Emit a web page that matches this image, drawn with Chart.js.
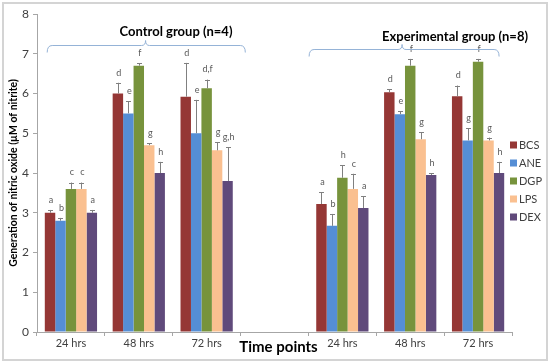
<!DOCTYPE html>
<html>
<head>
<meta charset="utf-8">
<script src="https://cdn.jsdelivr.net/npm/chart.js@4.4.1/dist/chart.umd.min.js"></script>
<style>
  html, body { margin: 0; padding: 0; background: #fff; }
  #wrap { width: 550px; height: 362px; position: relative; }
</style>
</head>
<body>
<div id="wrap"><canvas id="noChart"></canvas></div>
<script>
// time points (empty slot separates control and experimental groups)
const timePoints = ['24 hrs', '48 hrs', '72 hrs', '', '24 hrs', '48 hrs', '72 hrs'];
const yTicks = [0, 1, 2, 3, 4, 5, 6, 7, 8];

const seriesNames = ['BCS', 'ANE', 'DGP', 'LPS', 'DEX'];
const seriesColors = ['#953735', '#558ed5', '#77933c', '#fac090', '#604a7b'];

const bcs    = [3.0, 6.0, 5.92, null, 3.22, 6.03, 5.93];
const ane    = [2.8, 5.5, 5.0,  null, 2.67, 5.48, 4.82];
const dgp    = [3.6, 6.7, 6.13, null, 3.88, 6.7,  6.8];
const lps    = [3.6, 4.7, 4.57, null, 3.6,  4.85, 4.82];
const dex    = [3.0, 4.0, 3.8,  null, 3.12, 3.95, 4.0];

const bcsErr = [0.07, 0.27, 0.85, null, 0.3,  0.08, 0.27];
const aneErr = [0.07, 0.3,  0.84, null, 0.3,  0.07, 0.3];
const dgpErr = [0.16, 0.06, 0.22, null, 0.32, 0.17, 0.07];
const lpsErr = [0.16, 0.05, 0.21, null, 0.38, 0.17, 0.07];
const dexErr = [0.07, 0.28, 0.85, null, 0.3,  0.05, 0.28];

const bcsSig = ['a', 'd', 'd',   '', 'a', 'd', 'd'];
const aneSig = ['b', 'e', 'e',   '', 'b', 'e', 'g'];
const dgpSig = ['c', 'f', 'd,f', '', 'h', 'f', 'f'];
const lpsSig = ['c', 'g', 'g',   '', 'c', 'g', 'g'];
const dexSig = ['a', 'h', 'g,h', '', 'a', 'h', 'h'];

const values = [bcs, ane, dgp, lps, dex];
const errors = [bcsErr, aneErr, dgpErr, lpsErr, dexErr];
const letters = [bcsSig, aneSig, dgpSig, lpsSig, dexSig];

const FONT = 'Lato, "Open Sans", sans-serif';

function drawBrace(ctx, x1, xt, x2, y) {
    ctx.beginPath();
    ctx.moveTo(x1, y + 7);
    ctx.quadraticCurveTo(x1, y, x1 + 5, y);
    ctx.lineTo(xt - 4, y);
    ctx.quadraticCurveTo(xt, y, xt, y - 5);
    ctx.quadraticCurveTo(xt, y, xt + 4, y);
    ctx.lineTo(x2 - 5, y);
    ctx.quadraticCurveTo(x2, y, x2, y + 7);
    ctx.stroke();
}

const extras = {
    id: 'extras',
    beforeDraw(chart) {
        const ctx = chart.ctx;
        ctx.save();
        ctx.fillStyle = '#fff';
        ctx.fillRect(0, 0, chart.width, chart.height);
        ctx.strokeStyle = '#d4d4d4';
        ctx.lineWidth = 2;
        ctx.strokeRect(3, 3, chart.width - 6, chart.height - 5);
        ctx.restore();
    },
    afterDatasetsDraw(chart) {
        const ctx = chart.ctx;
        const y = chart.scales.y;
        ctx.save();
        chart.data.datasets.forEach((ds, i) => {
            const meta = chart.getDatasetMeta(i);
            meta.data.forEach((bar, j) => {
                const v = values[i][j];
                if (v === null) return;
                const top = y.getPixelForValue(v + errors[i][j]);
                ctx.strokeStyle = '#808080';
                ctx.lineWidth = 1;
                ctx.beginPath();
                ctx.moveTo(Math.round(bar.x) + 0.5, bar.y);
                ctx.lineTo(Math.round(bar.x) + 0.5, top);
                ctx.moveTo(Math.round(bar.x) - 2, Math.round(top) + 0.5);
                ctx.lineTo(Math.round(bar.x) + 3, Math.round(top) + 0.5);
                ctx.stroke();
                ctx.fillStyle = '#595959';
                ctx.font = '9px ' + FONT;
                ctx.textAlign = 'center';
                ctx.textBaseline = 'middle';
                ctx.fillText(letters[i][j], bar.x + 1, top - 10);
            });
        });
        ctx.restore();
    },
    afterDraw(chart) {
        const ctx = chart.ctx;
        const xs = chart.scales.x;
        const area = chart.chartArea;
        const w = xs.width / timePoints.length;
        ctx.save();
        // group braces
        ctx.strokeStyle = '#95b3d7';
        ctx.lineWidth = 1;
        drawBrace(ctx, xs.getPixelForValue(0) - 0.35 * w, xs.getPixelForValue(1) + 0.1 * w,
            xs.getPixelForValue(2) + 0.57 * w, 45.5);
        drawBrace(ctx, xs.getPixelForValue(4) - 0.49 * w, xs.getPixelForValue(5) - 0.12 * w,
            xs.getPixelForValue(6) + 0.31 * w, 49.5);
        ctx.fillStyle = '#000';
        ctx.font = 'bold 13px ' + FONT;
        ctx.textAlign = 'center';
        ctx.textBaseline = 'middle';
        ctx.fillText('Control group (n=4)', 176, 32);
        ctx.fillText('Experimental group (n=8)', 455, 37);
        // x axis title
        ctx.font = 'bold 15px ' + FONT;
        ctx.fillText('Time points', (area.left + area.right) / 2 + 4, 347);
        // legend
        ctx.font = '11px ' + FONT;
        ctx.textAlign = 'left';
        seriesNames.forEach((name, i) => {
            const ly = 145 + i * 18;
            ctx.fillStyle = seriesColors[i];
            ctx.fillRect(area.right - 2, ly - 3.5, 7, 7);
            ctx.fillStyle = '#404040';
            ctx.fillText(name, area.right + 7, ly);
        });
        ctx.restore();
    }
};

new Chart(document.getElementById('noChart'), {
    type: 'bar',
    data: {
        labels: timePoints,
        datasets: seriesNames.map((name, i) => ({
            label: name,
            data: values[i],
            backgroundColor: seriesColors[i],
            borderWidth: 0,
            categoryPercentage: 0.77,
            barPercentage: 1.0
        }))
    },
    options: {
        responsive: true,
        maintainAspectRatio: false,
        animation: false,
        layout: {
            padding: { left: 0, right: 38, top: 14, bottom: 0 }
        },
        scales: {
            x: {
                grid: {
                    display: true,
                    drawOnChartArea: false,
                    offset: true,
                    tickLength: 4,
                    color: '#a6a6a6'
                },
                border: { color: '#a6a6a6' },
                ticks: {
                    color: '#404040',
                    font: { family: FONT, size: 11 },
                    padding: 1,
                    maxRotation: 0,
                    autoSkip: false
                },
                afterFit(scale) { scale.height = 30; }
            },
            y: {
                min: 0,
                max: 8,
                afterBuildTicks(scale) {
                    scale.ticks = yTicks.map(v => ({ value: v }));
                },
                grid: {
                    display: true,
                    drawOnChartArea: false,
                    tickLength: 4,
                    color: '#a6a6a6'
                },
                border: { color: '#a6a6a6' },
                ticks: {
                    color: '#404040',
                    font: { family: FONT, size: 12 },
                    padding: 4
                },
                title: {
                    display: true,
                    text: 'Generation of nitric oxide (µM of nitrite)',
                    color: '#000',
                    font: { family: FONT, size: 10.5, weight: 'bold' },
                    padding: { top: 7, bottom: 0 }
                },
                afterFit(scale) { scale.width = 37; }
            }
        },
        plugins: {
            legend: { display: false },
            tooltip: { enabled: false }
        }
    },
    plugins: [extras]
});
</script>
</body>
</html>
